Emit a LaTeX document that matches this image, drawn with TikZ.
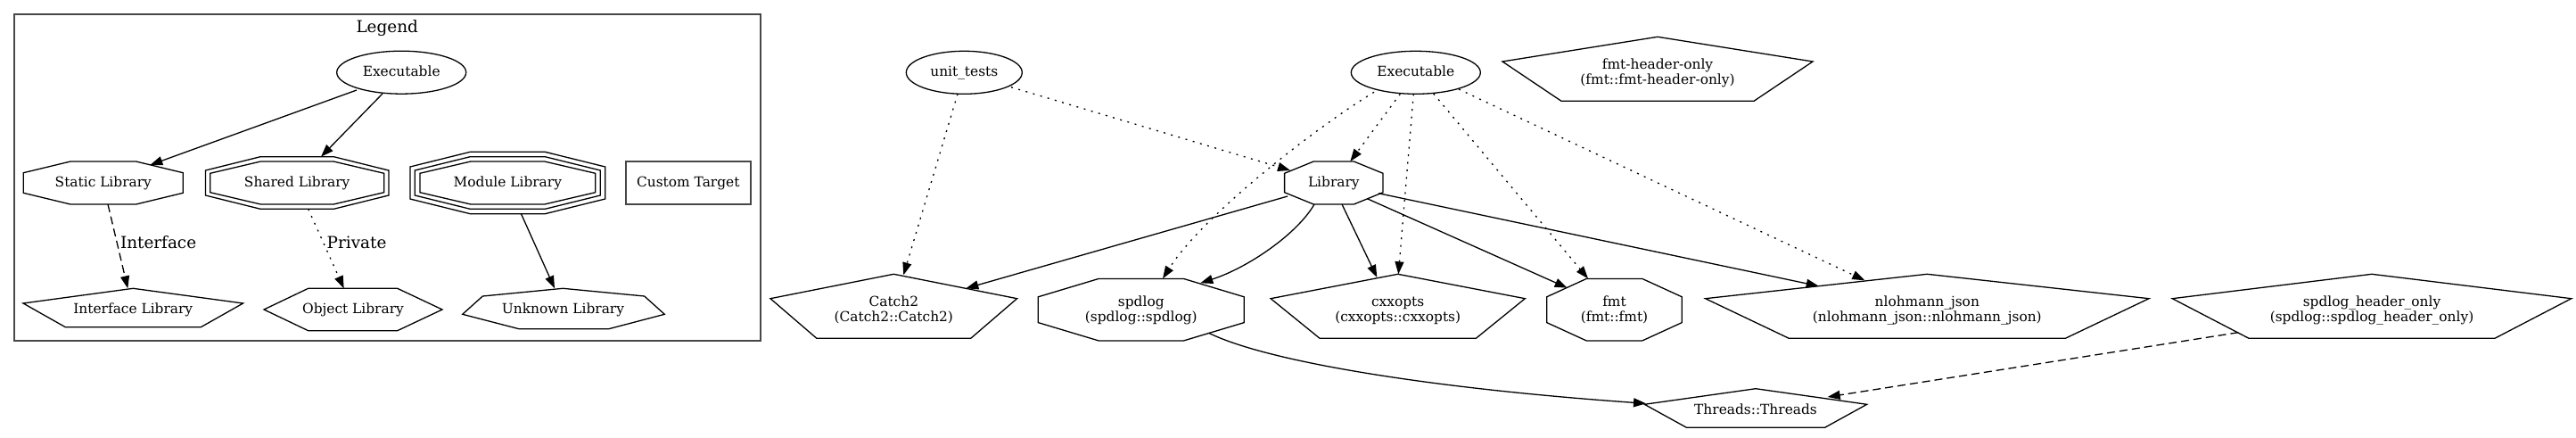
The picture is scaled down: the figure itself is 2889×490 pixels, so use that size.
\documentclass[tikz,border=0pt]{standalone}
\usepackage{fontspec}
\setmainfont{DejaVu Serif}
\usetikzlibrary{arrows.meta}
\tikzset{
  shp/.style={draw=black, line width=1.3pt, line join=miter},
  grayline/.style={draw=black!72, line width=1.8pt},
  lbl/.style={anchor=base, inner sep=0pt, outer sep=0pt, font=\fontsize{15.4}{17}\selectfont},
  biglbl/.style={lbl, font=\fontsize{18.4}{20}\selectfont},
  conn/.style={line width=1.3pt, -{Triangle[length=14pt,width=10pt]}},
  dotconn/.style={conn, dash pattern=on 2pt off 6.5pt},
  dashconn/.style={conn, dash pattern=on 9pt off 5pt}
}
% octagon: cx, cy, half width, half height, chamfer x, chamfer y
\newcommand\octshape[6]{%
  \draw[shp] ({#1-#3+#5},{#2-#4}) -- ({#1+#3-#5},{#2-#4}) -- ({#1+#3},{#2-#4+#6}) -- ({#1+#3},{#2+#4-#6}) -- ({#1+#3-#5},{#2+#4}) -- ({#1-#3+#5},{#2+#4}) -- ({#1-#3},{#2+#4-#6}) -- ({#1-#3},{#2-#4+#6}) -- cycle;}
% pentagon: cx, top y, mid y, bottom y, half width, half bottom width
\newcommand\pentshape[6]{%
  \draw[shp] (#1,#2) -- ({#1+#5},#3) -- ({#1+#6},#4) -- ({#1-#6},#4) -- ({#1-#5},#3) -- cycle;}
\newcommand\twolines[2]{\begin{tabular}[t]{@{}c@{}}#1\\#2\end{tabular}}
\begin{document}
\begin{tikzpicture}[x=1pt,y=-1pt]
\fill[white] (0,0) rectangle (2889,490);
\useasboundingbox (0,0) rectangle (2889,490);

% ---------------- Legend ----------------
\draw[grayline] (15.7,15.7) rectangle (853.3,381.7);
\node[biglbl] (legendtitle) at (434.2,36) {Legend};

\draw[shp] (450.2,81.2) ellipse [x radius=72.5pt, y radius=24pt];
\node[lbl] (Lexec) at (450.2,85.5) {Executable};

\octshape{115.8}{205}{89.5}{24}{52.7}{12.7}
\node[lbl] (Lstatic) at (115.8,209.5) {Static Library};

\octshape{333.2}{205}{97.5}{24}{56.6}{13.3}
\octshape{333.2}{205}{102.7}{29.3}{61.6}{15.3}
\node[lbl] (Lshared) at (333.2,209.5) {Shared Library};

\octshape{569.3}{205}{98.4}{24}{57}{13.3}
\octshape{569.3}{205}{104}{29.3}{62}{15.3}
\octshape{569.3}{205}{109.4}{34.7}{67.4}{16.7}
\node[lbl] (Lmodule) at (569.3,209.5) {Module Library};

\draw[grayline] (701.7,181) rectangle (842,229);
\node[lbl] (Lcustom) at (771.8,209.5) {Custom Target};

\pentshape{149.3}{323.3}{340}{366.7}{123.3}{76}
\node[lbl] (Liface) at (149.3,351) {Interface Library};

\draw[shp] (296,347) -- (345.7,323.3) -- (445.7,323.3) -- (496,347) -- (445.7,370.7) -- (345.7,370.7) -- cycle;
\node[lbl] (Lobject) at (396,351) {Object Library};

\draw[shp] (518.7,352.3) -- (541.3,332) -- (631.3,323.3) -- (722.7,332) -- (745.3,352.3) -- (682.7,368.7) -- (582,368.7) -- cycle;
\node[lbl] (Lunknown) at (631.5,351) {Unknown Library};

\coordinate (Lexec-o1) at (400,101);
\coordinate (Lexec-o2) at (429,105);
\coordinate (Lstatic-i) at (168.3,185);
\coordinate (Lshared-i) at (360,175.7);
\coordinate (Lstatic-o) at (121,229);
\coordinate (Liface-i) at (143.3,323.3);
\coordinate (Lshared-o) at (345.7,234.3);
\coordinate (Lobject-i) at (385.7,323.3);
\coordinate (Lmodule-o) at (584.3,239.3);
\coordinate (Lunknown-i) at (622,323.3);

\draw[conn] (Lexec-o1) -- (Lstatic-i);
\draw[conn] (Lexec-o2) -- (Lshared-i);
\draw[dashconn] (Lstatic-o) -- (Liface-i);
\draw[dotconn] (Lshared-o) -- (Lobject-i);
\draw[conn] (Lmodule-o) -- (Lunknown-i);
\node[biglbl, anchor=base west] (labIface) at (135,278.7) {Interface};
\node[biglbl, anchor=base west] (labPriv) at (366.7,278.7) {Private};

% ---------------- Main graph ----------------
\draw[shp] (1081.3,81.3) ellipse [x radius=65pt, y radius=24pt];
\node[lbl] (unittests) at (1081.3,85.5) {unit\_tests};

\draw[shp] (1587.8,81.3) ellipse [x radius=72.5pt, y radius=24pt];
\node[lbl] (exec) at (1587.8,85.5) {Executable};

\pentshape{1859}{41.3}{69}{113.3}{174}{108}
\node[lbl] (fmtho) at (1859,77.3) {\twolines{fmt-header-only}{(fmt::fmt-header-only)}};

\octshape{1495.8}{205}{55.2}{24}{32.6}{13.3}
\node[lbl] (lib) at (1495.8,209.5) {Library};

\pentshape{1002.3}{307.3}{334.7}{379.3}{138.3}{86.4}
\node[lbl] (catch) at (1002.3,343.5) {\twolines{Catch2}{(Catch2::Catch2)}};

\octshape{1279.8}{347.2}{115.5}{34.8}{68}{20.4}
\node[lbl] (spdlog) at (1279.8,343.5) {\twolines{spdlog}{(spdlog::spdlog)}};

\pentshape{1567.7}{307.3}{334.7}{379.3}{142.6}{87.6}
\node[lbl] (cxxopts) at (1567.7,343.5) {\twolines{cxxopts}{(cxxopts::cxxopts)}};

\octshape{1810.5}{347.2}{75.8}{34.8}{44.6}{20.4}
\node[lbl] (fmt) at (1810.5,343.5) {\twolines{fmt}{(fmt::fmt)}};

\pentshape{2161.3}{307.3}{334.7}{379.3}{248.7}{155}
\node[lbl] (json) at (2161.3,343.5) {\twolines{nlohmann\_json}{(nlohmann\_json::nlohmann\_json)}};

\pentshape{2660}{307.3}{334.7}{379.3}{223.7}{137.9}
\node[lbl] (spdho) at (2660,343.5) {\twolines{spdlog\_header\_only}{(spdlog::spdlog\_header\_only)}};

\pentshape{1969}{435.7}{453.3}{479.3}{124.7}{77.5}
\node[lbl] (threads) at (1969,464) {Threads::Threads};

% ports
\coordinate (ut-o1) at (1074,105.3);
\coordinate (ut-o2) at (1134,97.7);
\coordinate (catch-i1) at (1013.3,308.3);
\coordinate (lib-i1) at (1447,191);
\coordinate (ex-o1) at (1570.3,105.3);
\coordinate (lib-i2) at (1514.3,181);
\coordinate (ex-o2) at (1541,103.3);
\coordinate (spd-i1) at (1304,312.3);
\coordinate (ex-o3) at (1585.3,105.3);
\coordinate (cxx-i1) at (1568.3,307.3);
\coordinate (ex-o4) at (1607.7,105);
\coordinate (fmt-i1) at (1781,312.3);
\coordinate (ex-o5) at (1636,100);
\coordinate (json-i1) at (2091.3,314.3);
\coordinate (lib-o1) at (1444,220);
\coordinate (catch-i2) at (1083.3,323.3);
\coordinate (lib-o2) at (1474,229);
\coordinate (spd-i2) at (1346.3,317.3);
\coordinate (lib-o3) at (1505,229);
\coordinate (cxx-i2) at (1544.3,311);
\coordinate (lib-o4) at (1533.3,222.7);
\coordinate (fmt-i2) at (1757.7,322.7);
\coordinate (lib-o5) at (1546,216.7);
\coordinate (json-i2) at (2039.7,320.7);
\coordinate (spd-o) at (1355.7,373.3);
\coordinate (thr-i1) at (1846,452.3);
\coordinate (spdho-o) at (2510.3,372.7);
\coordinate (thr-i2) at (2049.7,445);

\draw[dotconn] (ut-o1) -- (catch-i1);
\draw[dotconn] (ut-o2) -- (lib-i1);
\draw[dotconn] (ex-o1) -- (lib-i2);
\draw[dotconn] (ex-o2) .. controls (1480,140) and (1350,240) .. (spd-i1);
\draw[dotconn] (ex-o3) -- (cxx-i1);
\draw[dotconn] (ex-o4) -- (fmt-i1);
\draw[dotconn] (ex-o5) -- (json-i1);
\draw[conn] (lib-o1) -- (catch-i2);
\draw[conn] (lib-o2) .. controls (1455,262) and (1400,300) .. (spd-i2);
\draw[conn] (lib-o3) -- (cxx-i2);
\draw[conn] (lib-o4) -- (fmt-i2);
\draw[conn] (lib-o5) -- (json-i2);
\draw[conn] (spd-o) .. controls (1420,405) and (1600,435) .. (thr-i1);
\draw[dashconn] (spdho-o) -- (thr-i2);
\end{tikzpicture}
\end{document}
